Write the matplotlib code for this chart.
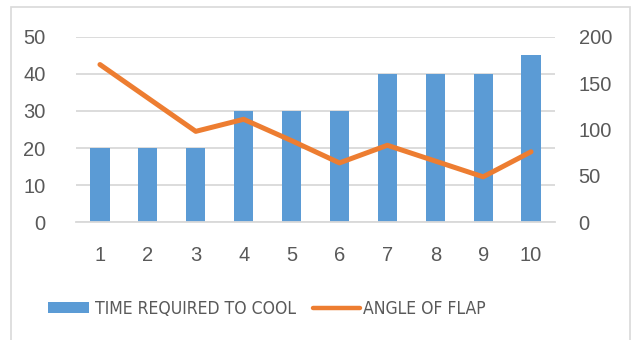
import matplotlib as mpl
mpl.use('Agg')
import matplotlib.pyplot as plt
from matplotlib import font_manager as fm
from matplotlib.patches import Rectangle
from matplotlib.lines import Line2D

# cooling trial data
trials = [1, 2, 3, 4, 5, 6, 7, 8, 9, 10]
cool_time = [20, 20, 20, 30, 30, 30, 40, 40, 40, 45]
flap_angle = [170, 134, 98, 111, 88, 64, 83, 66, 49, 76]

left_ticks = [0, 10, 20, 30, 40, 50]
right_ticks = [0, 50, 100, 150, 200]

series_names = ['TIME REQUIRED TO COOL', 'ANGLE OF FLAP']

BLUE = '#5B9BD5'
ORANGE = '#ED7D31'
GRID = '#D9D9D9'
TEXT = '#595959'

# a narrow face for the legend if one is around
narrow = None
for f in fm.findSystemFonts():
    name = f.split('/')[-1]
    if name in ('LiberationSansNarrow-Regular.ttf', 'DejaVuSansCondensed.ttf'):
        narrow = f
        if name.startswith('Liberation'):
            break
if narrow:
    leg_prop = fm.FontProperties(fname=narrow, size=14)
else:
    leg_prop = fm.FontProperties(family='Liberation Sans', size=14)

fig = plt.figure(figsize=(6.37, 3.4), dpi=100)
W, H = 637, 340


def px(x, y):
    return x / W, 1 - y / H


# light frame round the chart
fig.patches.append(Rectangle((11 / W, -0.1), (630 - 11) / W, 1.1 - 7 / H,
                             transform=fig.transFigure, fill=False,
                             edgecolor=GRID, linewidth=1.2))

ax = fig.add_axes([76 / W, 1 - 222.3 / H, (555 - 76) / W, (222.3 - 36.7) / H])
ax2 = ax.twinx()

ax.bar(trials, cool_time, width=0.4, color=BLUE, zorder=2)
ax2.plot(trials, flap_angle, color=ORANGE, linewidth=3.6,
         solid_capstyle='round', solid_joinstyle='round')

ax.set_xlim(0.5, 10.5)
ax.set_ylim(0, 50)
ax2.set_ylim(0, 200)
ax.set_yticks(left_ticks)
ax2.set_yticks(right_ticks)
ax.set_xticks(trials)

ax.yaxis.grid(True, color=GRID, linewidth=1.3, zorder=0)
ax.set_axisbelow(True)
for a in (ax, ax2):
    for s in a.spines.values():
        s.set_visible(False)
ax.spines['bottom'].set_visible(True)
ax.spines['bottom'].set_color(GRID)
ax.spines['bottom'].set_linewidth(1.3)

ax.tick_params(axis='both', length=0, colors=TEXT)
ax2.tick_params(axis='y', length=0, colors=TEXT, pad=17)
ax.tick_params(axis='y', pad=22)
ax.tick_params(axis='x', pad=17)
for lab in ax.get_xticklabels() + ax.get_yticklabels() + ax2.get_yticklabels():
    lab.set_fontfamily('Liberation Sans')
    lab.set_fontsize(14.5)

# legend drawn by hand: bar swatch, label, line swatch, label
fig.patches.append(Rectangle(px(48, 313), 41 / W, 11 / H, transform=fig.transFigure,
                             facecolor=BLUE, edgecolor='none'))
t1 = fig.text(*px(95, 309), series_names[0], color=TEXT, va='center', ha='left',
              fontproperties=leg_prop)
fig.lines.append(Line2D([313 / W, 360 / W], [1 - 307.7 / H] * 2, transform=fig.transFigure,
                        color=ORANGE, linewidth=3.2, solid_capstyle='round'))
t2 = fig.text(*px(363, 309), series_names[1], color=TEXT, va='center', ha='left',
              fontproperties=leg_prop)

# squeeze the legend text to the width it needs
r = fig.canvas.get_renderer()
w1 = t1.get_window_extent(r).width
scale = 203 / w1
for t in (t1, t2):
    t.set_fontsize(14 * scale)

fig.savefig('out.png', dpi=100)
